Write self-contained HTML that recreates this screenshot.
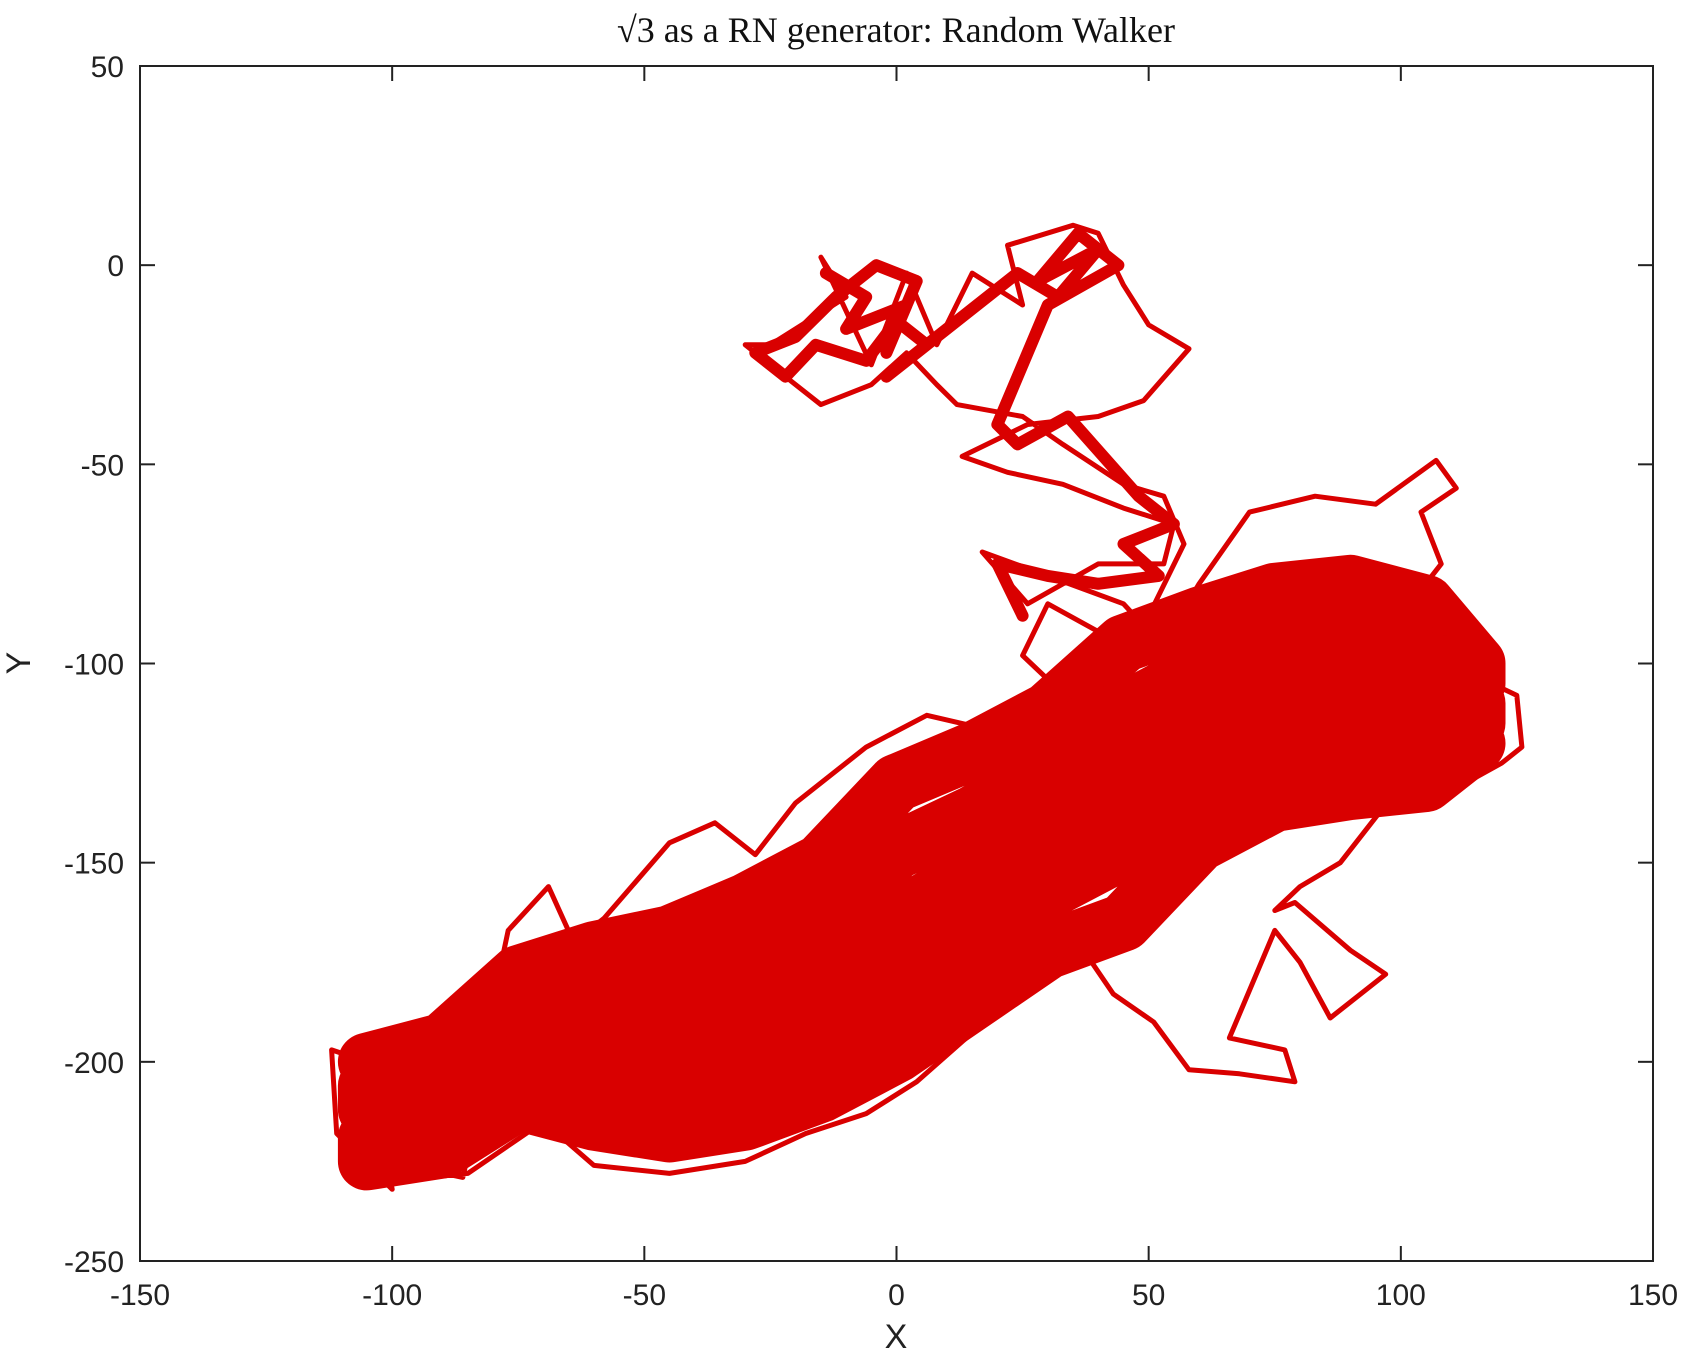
<!DOCTYPE html>
<html><head><meta charset="utf-8"><style>
html,body{margin:0;padding:0;background:#fff;}
svg{display:block;}
</style></head><body>
<svg id="chart" width="1684" height="1350" viewBox="0 0 1684 1350" xmlns="http://www.w3.org/2000/svg">
<text x="896" y="42" text-anchor="middle" font-family="'Liberation Serif',serif" font-size="36" fill="#111">√3 as a RN generator: Random Walker</text>
<g id="plot"></g>
<g id="axes"></g>
<text x="896" y="1348" text-anchor="middle" font-family="'Liberation Sans',sans-serif" font-size="34" fill="#222">X</text>
<text x="30" y="663" text-anchor="middle" font-family="'Liberation Sans',sans-serif" font-size="34" fill="#222" transform="rotate(-90 30 663)">Y</text>
</svg>
<script>
const xTicks = [-150,-100,-50,0,50,100,150];
const yTicks = [50,0,-50,-100,-150,-200,-250];
// sparse tracer of the walk's outlying excursions (data units)
const walkX = [-105,-112,-111,-100,-101,-86,-84,-75,-80,-77,-69,-64,-58,-45,-36,-28,-20,-6,6,23,36,53,45,30,17,26,40,53,55,45,33,22,13,26,40,49,58,50,45,40,35,22,25,15,8,2,-5,-15,-10,-25,-30,-22,-15,-5,2,8,12,25,33,45,53,57,50,40,30,25,35,45,53,60,70,83,95,107,111,104,108,100,107,113,118,123,124,120,110,107,96,88,80,75,79,90,97,86,80,75,66,77,79,68,58,51,43,36,21,4,-6,-18,-30,-45,-60,-70,-85,-100,-105];
const walkY = [-200,-197,-218,-232,-225,-229,-218,-205,-185,-167,-156,-170,-164,-145,-140,-148,-135,-121,-113,-118,-102,-96,-85,-78,-72,-85,-75,-75,-65,-61,-55,-52,-48,-40,-38,-34,-21,-15,-5,8,10,5,-10,-2,-20,-2,-25,2,-8,-20,-20,-28,-35,-30,-22,-30,-35,-38,-45,-55,-58,-70,-88,-92,-85,-98,-110,-104,-95,-80,-62,-58,-60,-49,-56,-62,-75,-88,-92,-93,-105,-108,-121,-125,-132,-134,-137,-150,-156,-162,-160,-172,-178,-189,-175,-167,-194,-197,-205,-203,-202,-190,-183,-170,-186,-205,-213,-218,-225,-228,-226,-215,-228,-230,-215];
// dense core region of the walk, swept across the band (data units)
const coreX = [-105,-90,-75,-60,-45,-30,-15,0,15,30,45,60,75,90,105,115,
               115,105,90,75,60,45,30,15,0,-15,-30,-45,-60,-75,-90,-105,
               -105,-90,-75,-60,-45,-30,-15,0,15,30,45,60,75,90,105,115,
               115,105,90,75,60,45,30,15,0,-15,-30,-45,-60,-75,-90,-105,
               -105,-90,-75,-60,-45,-30,-15,0,15,30,45,60,75,90,105,115];
const coreY = [-200,-195,-178,-172,-168,-160,-150,-130,-122,-112,-95,-88,-82,-80,-85,-100,
               -105,-96,-93,-95,-102,-112,-127,-138,-147,-164,-174,-180,-183,-186,-202,-206,
               -212,-208,-194,-193,-193,-187,-179,-164,-153,-142,-130,-116,-108,-106,-107,-110,
               -115,-119,-119,-122,-131,-147,-157,-169,-181,-193,-201,-205,-204,-202,-215,-219,
               -225,-222,-210,-215,-218,-215,-208,-198,-185,-172,-165,-145,-135,-132,-130,-120];
// dense blobs near the top excursion and upper-middle region (data units)
const blobX = [-14,-6,-10,2,-2,4,-4,-12,-20,-28,-22,-16,-6,0,6,-2,24,32,40,28,36,44,30,20,24,34,48,55,45,52,40,30,20,25];
const blobY = [-2,-8,-16,-10,-22,-4,0,-8,-18,-22,-28,-20,-24,-14,-20,-28,-2,-8,4,-4,8,0,-10,-40,-45,-38,-58,-65,-70,-78,-80,-78,-75,-88];

const X0=140, X1=1653, Y0=66, Y1=1261;
const xs = v => X0 + (v+150)/300*(X1-X0);
const ys = v => Y0 + (50-v)/300*(Y1-Y0);
const NS='http://www.w3.org/2000/svg';
const plot=document.getElementById('plot'), axes=document.getElementById('axes');

function line(xArr,yArr,w,name){
  const p=document.createElementNS(NS,'polyline');
  p.setAttribute('points', xArr.map((v,i)=>xs(v).toFixed(1)+','+ys(yArr[i]).toFixed(1)).join(' '));
  p.setAttribute('fill','none');p.setAttribute('stroke','#d90000');
  p.setAttribute('stroke-width',w);p.setAttribute('stroke-linejoin','round');p.setAttribute('stroke-linecap','round');
  
  
  plot.appendChild(p);
}
line(coreX,coreY,58,'walk-core');
line(walkX,walkY,5,'walk-path');
line(blobX,blobY,12,'walk-top-blob');

const box=document.createElementNS(NS,'rect');
box.setAttribute('x',X0);box.setAttribute('y',Y0);box.setAttribute('width',X1-X0);box.setAttribute('height',Y1-Y0);
box.setAttribute('fill','none');box.setAttribute('stroke','#222');box.setAttribute('stroke-width','2');


axes.appendChild(box);

xTicks.forEach(t=>{
  const x=xs(t);
  [[Y1,Y1-15],[Y0,Y0+15]].forEach(([a,b])=>{
    const l=document.createElementNS(NS,'line');
    l.setAttribute('x1',x);l.setAttribute('x2',x);l.setAttribute('y1',a);l.setAttribute('y2',b);
    l.setAttribute('stroke','#222');l.setAttribute('stroke-width','2');
    
    
    axes.appendChild(l);
  });
  const tx=document.createElementNS(NS,'text');
  tx.setAttribute('x',x);tx.setAttribute('y',Y1+44);tx.setAttribute('text-anchor','middle');
  tx.setAttribute('font-family','Liberation Sans, sans-serif');tx.setAttribute('font-size','30');tx.setAttribute('fill','#222');
  tx.textContent=t;
  
  
  axes.appendChild(tx);
});
yTicks.forEach(t=>{
  const y=ys(t);
  [[X0,X0+15],[X1,X1-15]].forEach(([a,b])=>{
    const l=document.createElementNS(NS,'line');
    l.setAttribute('y1',y);l.setAttribute('y2',y);l.setAttribute('x1',a);l.setAttribute('x2',b);
    l.setAttribute('stroke','#222');l.setAttribute('stroke-width','2');
    
    
    axes.appendChild(l);
  });
  const tx=document.createElementNS(NS,'text');
  tx.setAttribute('x',X0-16);tx.setAttribute('y',y+11);tx.setAttribute('text-anchor','end');
  tx.setAttribute('font-family','Liberation Sans, sans-serif');tx.setAttribute('font-size','30');tx.setAttribute('fill','#222');
  tx.textContent=t;
  
  
  axes.appendChild(tx);
});
</script>
</body></html>
